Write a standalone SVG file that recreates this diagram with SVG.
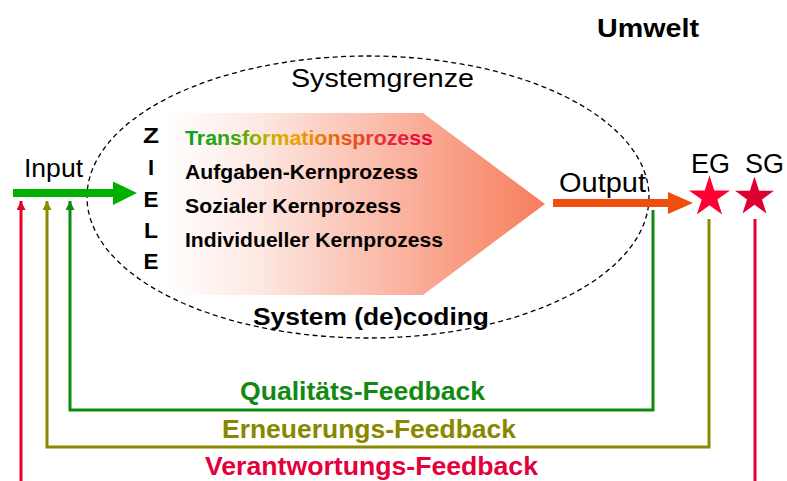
<svg xmlns="http://www.w3.org/2000/svg" width="787" height="481" viewBox="0 0 787 481">
<defs>
  <linearGradient id="procGrad" x1="0" y1="0" x2="1" y2="0">
    <stop offset="0" stop-color="#ffffff"/>
    <stop offset="0.25" stop-color="#fde8e2"/>
    <stop offset="1" stop-color="#f77d5c"/>
  </linearGradient>
  <linearGradient id="transGrad" x1="0" y1="0" x2="1" y2="0">
    <stop offset="0" stop-color="#0aa01a"/>
    <stop offset="0.2" stop-color="#3aa810"/>
    <stop offset="0.33" stop-color="#b8b400"/>
    <stop offset="0.45" stop-color="#f0a000"/>
    <stop offset="0.62" stop-color="#e46010"/>
    <stop offset="0.8" stop-color="#e8303a"/>
    <stop offset="1" stop-color="#e8003c"/>
  </linearGradient>
  <marker id="ahGreen" markerUnits="userSpaceOnUse" markerWidth="9" markerHeight="9" viewBox="0 0 10 10" refX="10" refY="5" orient="auto"><path d="M0,0 L10,5 L0,10 z" fill="#0c8a0c"/></marker>
  <marker id="ahOlive" markerUnits="userSpaceOnUse" markerWidth="9" markerHeight="9" viewBox="0 0 10 10" refX="10" refY="5" orient="auto"><path d="M0,0 L10,5 L0,10 z" fill="#8a8a00"/></marker>
  <marker id="ahRed" markerUnits="userSpaceOnUse" markerWidth="9" markerHeight="9" viewBox="0 0 10 10" refX="10" refY="5" orient="auto"><path d="M0,0 L10,5 L0,10 z" fill="#e8002e"/></marker>
</defs>
<style>
  text { font-family: "Liberation Sans", Arial, sans-serif; }
  .reg { font-size: 26px; fill: #000; }
  .bold { font-weight: bold; }
  .list { font-size: 19.5px; font-weight: bold; fill: #000; }
  .ziele { font-size: 22px; font-weight: bold; fill: #000; text-anchor: middle; }
  .fb { font-size: 25px; font-weight: bold; }
  .fbline { fill: none; stroke-width: 3; stroke-linejoin: miter; }
</style>
<rect width="787" height="481" fill="#ffffff"/>

<g id="umwelt">
  <text x="597" y="37" class="reg bold" textLength="102" lengthAdjust="spacingAndGlyphs">Umwelt</text>
</g>

<g id="process">
  <polygon points="165,113 423,113 545,204 423,295 165,295" fill="url(#procGrad)"/>
  <text x="185" y="145" class="list" style="fill:url(#transGrad)" textLength="248" lengthAdjust="spacingAndGlyphs">Transformationsprozess</text>
  <text x="185" y="178.5" class="list" textLength="233" lengthAdjust="spacingAndGlyphs">Aufgaben-Kernprozess</text>
  <text x="185" y="212.5" class="list" textLength="216" lengthAdjust="spacingAndGlyphs">Sozialer Kernprozess</text>
  <text x="185" y="246.5" class="list" textLength="258" lengthAdjust="spacingAndGlyphs">Individueller Kernprozess</text>
</g>

<g id="systemgrenze">
  <ellipse cx="368" cy="197" rx="281" ry="141" fill="none" stroke="#000" stroke-width="1.3" stroke-dasharray="5,3.5"/>
  <text x="291" y="87" class="reg" textLength="183" lengthAdjust="spacingAndGlyphs">Systemgrenze</text>
  <text x="253" y="325" class="bold" style="font-size:23px" textLength="236" lengthAdjust="spacingAndGlyphs">System (de)coding</text>
</g>

<g id="ziele">
  <text x="151" y="143" class="ziele" textLength="16" lengthAdjust="spacingAndGlyphs">Z</text>
  <text x="151" y="175" class="ziele">I</text>
  <text x="151" y="207" class="ziele" textLength="15" lengthAdjust="spacingAndGlyphs">E</text>
  <text x="151" y="238" class="ziele" textLength="14" lengthAdjust="spacingAndGlyphs">L</text>
  <text x="151" y="269" class="ziele" textLength="15" lengthAdjust="spacingAndGlyphs">E</text>
</g>

<g id="input">
  <text x="24" y="177" class="reg" textLength="59" lengthAdjust="spacingAndGlyphs">Input</text>
  <path d="M13,189 H113 V181.5 L137,193 L113,205 V197 H13 z" fill="#00b000"/>
</g>

<g id="output">
  <text x="559" y="192" class="reg" style="font-size:27px" textLength="87" lengthAdjust="spacingAndGlyphs">Output</text>
  <path d="M553,199 H668 V192 L693,203 L668,214 V207 H553 z" fill="#f04e0e"/>
</g>

<g id="EG">
  <text x="691" y="173" class="reg" style="font-size:27px" textLength="39" lengthAdjust="spacingAndGlyphs">EG</text>
  <polygon fill="#ff0033" transform="translate(709.5,197)" points="0,-21.5 4.8,-6.6 20.5,-6.6 7.8,2.6 12.6,17.4 0,8.2 -12.6,17.4 -7.8,2.6 -20.5,-6.6 -4.8,-6.6"/>
</g>

<g id="SG">
  <text x="745" y="173" class="reg" style="font-size:27px" textLength="39" lengthAdjust="spacingAndGlyphs">SG</text>
  <polygon fill="#dc0030" transform="translate(754.5,197)" points="0,-20.5 4.6,-6.3 19.5,-6.3 7.5,2.4 12,16.6 0,7.8 -12,16.6 -7.5,2.4 -19.5,-6.3 -4.6,-6.3"/>
</g>

<g id="connectors">
  <path class="fbline" d="M653,210 V410 H70 V201" stroke="#0c8a0c" marker-end="url(#ahGreen)"/>
  <path class="fbline" d="M709,219 V447 H47 V201" stroke="#8a8a00" marker-end="url(#ahOlive)"/>
  <path class="fbline" d="M21,481 V201" stroke="#e8002e" stroke-width="2.5" marker-end="url(#ahRed)"/>
  <path class="fbline" d="M755,219 V481" stroke="#e8002e" stroke-width="2.5"/>
</g>

<g id="feedback-labels">
  <text x="240" y="400" class="fb" fill="#118a11" textLength="245" lengthAdjust="spacingAndGlyphs">Qualitäts-Feedback</text>
  <text x="222" y="438" class="fb" fill="#888800" textLength="294" lengthAdjust="spacingAndGlyphs">Erneuerungs-Feedback</text>
  <text x="205" y="475" class="fb" fill="#e4003a" textLength="333" lengthAdjust="spacingAndGlyphs">Verantwortungs-Feedback</text>
</g>
</svg>
